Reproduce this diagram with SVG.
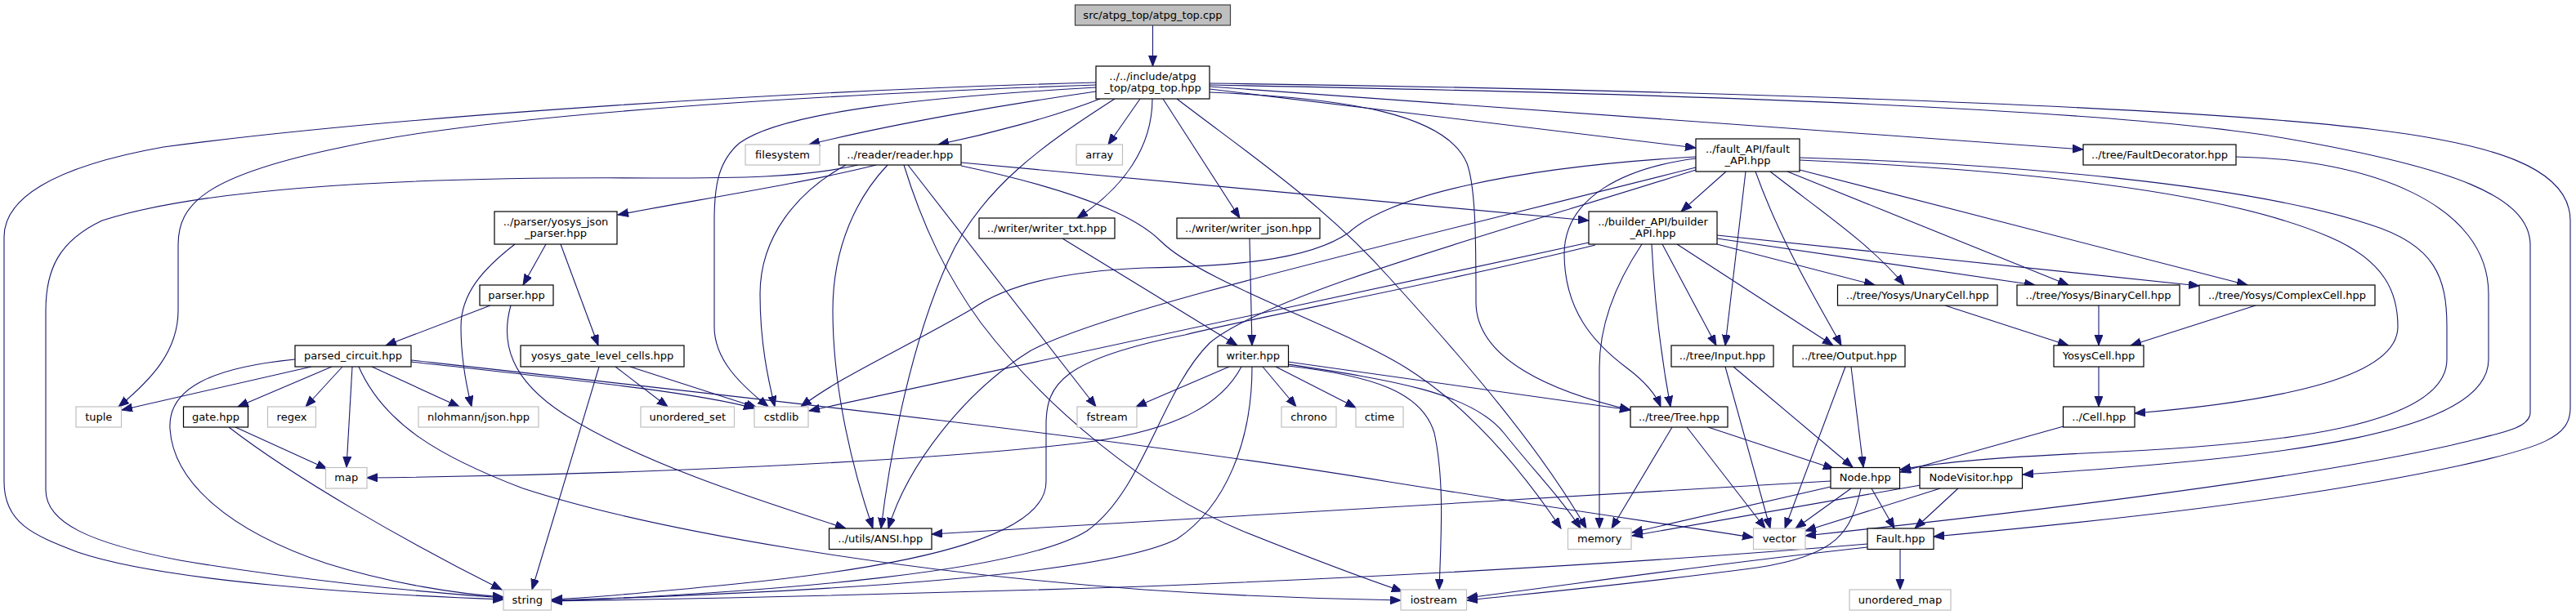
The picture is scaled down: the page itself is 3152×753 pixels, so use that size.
<svg xmlns="http://www.w3.org/2000/svg" width="3152" height="753" viewBox="0 0 3152 753">
<defs>
<style>
.node rect{fill:#ffffff;stroke:#000000;stroke-width:1.2}
.ext rect{stroke:#bfbfbf}
.root rect{fill:#bfbfbf;stroke:#404040}
.node text{font-family:"DejaVu Sans","Liberation Sans",sans-serif;font-size:13px;text-anchor:middle;fill:#000000}
.edges path{fill:none;stroke:#191970;stroke-width:1.1;marker-end:url(#ah)}
</style>
<marker id="ah" markerUnits="userSpaceOnUse" markerWidth="14" markerHeight="11" refX="13" refY="5" orient="auto">
<path d="M0,0 L13,5 L0,10 z" fill="#191970" stroke="#191970" stroke-width="1"/>
</marker>
</defs>
<rect x="0" y="0" width="3152" height="753" fill="#ffffff"/>
<g id="edges" class="edges">
<path d="M1410.5,31 L1410.5,81"/>
<path d="M1341,112 C1230,128 1090,152 990,177"/>
<path d="M1346,121 C1290,143 1210,164 1148,177"/>
<path d="M1395,121 L1356,177"/>
<path d="M1410,121 C1410,180 1375,230 1318,267"/>
<path d="M1423,121 L1517,267"/>
<path d="M1480,109 L2075,181"/>
<path d="M1480,106 L2549,183"/>
<path d="M1480,104 C1800,110 2550,125 2800,170 C3000,205 3096,240 3096,300 L3096,505 C3096,525 3060,530 3000,545 C2800,590 2450,630 2209,656"/>
<path d="M1480,102 C1800,106 2600,122 2900,158 C3050,176 3145,205 3145,270 L3145,500 C3145,535 3110,548 3010,570 C2800,615 2550,640 2366,657"/>
<path d="M1341,101 C1000,110 500,140 200,180 C60,205 5,245 5,290 L5,590 C5,640 40,655 95,676 C200,712 450,728 616,734"/>
<path d="M1341,104 C1000,116 600,140 420,180 C250,215 218,250 218,300 L218,380 C218,430 185,465 145,498"/>
<path d="M1341,107 C1150,118 960,135 905,175 C878,198 874,230 874,270 L874,400 C874,440 905,470 940,498"/>
<path d="M1364,121 C1280,175 1200,230 1160,320 C1115,420 1090,550 1078,647"/>
<path d="M1440,121 C1530,190 1620,250 1700,340 C1800,450 1885,550 1941,647"/>
<path d="M1480,113 C1650,120 1770,140 1795,200 C1806,230 1806,300 1806,370 C1806,440 1900,480 1995,502"/>
<path d="M1072,202 C980,225 850,245 756,263"/>
<path d="M1176,199 L1944,270"/>
<path d="M1050,202 C980,218 900,218 800,218 C500,216 250,230 125,270 C72,295 56,330 56,380 L56,600 C56,640 110,665 220,686 C350,708 500,724 616,732"/>
<path d="M1035,202 C975,235 930,290 930,360 C930,420 940,465 948,498"/>
<path d="M1086,202 C1050,240 1019,300 1019,380 C1019,480 1045,580 1068,647"/>
<path d="M1106,202 C1130,280 1160,340 1200,395 C1280,500 1400,600 1520,650 C1600,682 1660,705 1716,724"/>
<path d="M1111,202 L1341,498"/>
<path d="M1176,203 C1280,225 1380,255 1420,295 C1470,345 1640,400 1720,450 C1800,500 1865,580 1910,647"/>
<path d="M668,299 L640,349"/>
<path d="M686,299 L732,423"/>
<path d="M630,299 C590,330 564,360 564,400 C564,440 570,470 577,498"/>
<path d="M600,374 L472,423"/>
<path d="M625,374 C612,420 625,465 690,507 C780,565 920,610 1035,647"/>
<path d="M361,440 C260,450 205,475 208,525 C212,590 280,650 400,690 C480,715 560,727 616,731"/>
<path d="M381,449 L149,502"/>
<path d="M406,449 L291,498"/>
<path d="M419,449 L374,498"/>
<path d="M431,449 L424,572"/>
<path d="M439,449 C470,520 540,560 640,598 C800,650 1100,700 1400,722 C1550,732 1650,734 1714,735"/>
<path d="M455,449 L562,498"/>
<path d="M503,443 C700,465 850,480 923,500"/>
<path d="M503,441 C900,485 1400,540 1700,590 C1900,622 2050,643 2145,658"/>
<path d="M288,523 L400,574"/>
<path d="M280,523 C360,585 500,665 614,722"/>
<path d="M733,449 L651,722"/>
<path d="M753,449 L817,498"/>
<path d="M771,449 L926,499"/>
<path d="M1300,292 L1514,423"/>
<path d="M1529,292 L1532,423"/>
<path d="M1504,449 L1390,498"/>
<path d="M1519,449 C1495,495 1440,525 1340,540 C1150,565 750,582 449,585"/>
<path d="M1532,449 C1532,540 1500,620 1440,660 C1350,705 1000,725 675,735"/>
<path d="M1545,449 L1586,498"/>
<path d="M1561,449 L1659,499"/>
<path d="M1576,443 L1995,502"/>
<path d="M1576,446 C1700,465 1800,480 1840,530 C1880,580 1910,610 1934,647"/>
<path d="M1576,448 C1680,460 1740,480 1755,530 C1768,590 1763,660 1761,722"/>
<path d="M1944,297 L990,503"/>
<path d="M1952,300 C1750,350 1550,385 1450,410 C1300,440 1280,470 1280,520 L1280,590 C1280,650 1150,690 900,715 C800,725 720,732 675,734"/>
<path d="M2009,299 C1975,350 1957,400 1957,450 L1957,647"/>
<path d="M2021,299 C2025,380 2035,450 2044,498"/>
<path d="M2034,299 L2100,423"/>
<path d="M2052,299 L2243,423"/>
<path d="M2101,299 L2294,349"/>
<path d="M2101,292 L2490,349"/>
<path d="M2101,288 L2691,350"/>
<path d="M2112,210 L2057,259"/>
<path d="M2136,210 L2111,423"/>
<path d="M2148,210 C2180,300 2230,380 2253,423"/>
<path d="M2166,210 C2230,260 2290,300 2330,349"/>
<path d="M2187,210 L2531,349"/>
<path d="M2202,208 L2750,349"/>
<path d="M2202,196 C2400,205 2700,225 2850,290 C2920,320 2934,360 2934,400 C2934,460 2800,490 2612,506"/>
<path d="M2202,193 C2450,200 2750,225 2900,275 C2980,300 2994,340 2994,400 L2994,440 C2994,520 2800,545 2550,555 C2450,560 2380,565 2325,575"/>
<path d="M2075,192 C1850,205 1700,240 1650,285 C1600,320 1500,326 1400,328 C1300,332 1230,350 1190,378 C1100,430 1030,460 980,498"/>
<path d="M2075,194 C1990,205 1915,240 1914,310 C1914,380 1950,420 1990,450 C2010,465 2025,480 2032,498"/>
<path d="M2075,205 C1700,300 1350,380 1260,430 C1180,480 1110,570 1087,647"/>
<path d="M2075,208 C1850,280 1550,360 1480,420 C1420,480 1400,600 1330,650 C1250,700 950,725 675,736"/>
<path d="M2380,374 L2531,423"/>
<path d="M2568,374 L2568,423"/>
<path d="M2760,374 L2607,423"/>
<path d="M2568,449 L2568,498"/>
<path d="M2525,522 L2325,578"/>
<path d="M2736,192 C2900,195 3045,250 3045,360 L3045,440 C3045,530 2800,560 2475,581"/>
<path d="M2111,449 L2166,647"/>
<path d="M2121,449 L2267,572"/>
<path d="M2258,449 L2184,647"/>
<path d="M2265,449 L2280,572"/>
<path d="M2046,523 L1972,647"/>
<path d="M2064,523 L2160,647"/>
<path d="M2090,523 L2244,574"/>
<path d="M2265,598 L2197,647"/>
<path d="M2290,598 L2318,647"/>
<path d="M2240,596 L1997,652"/>
<path d="M2240,589 L1140,654"/>
<path d="M2277,598 C2265,650 2250,680 2150,695 C2000,715 1880,726 1795,735"/>
<path d="M2350,594 L1997,656"/>
<path d="M2374,598 L2209,650"/>
<path d="M2396,598 L2343,647"/>
<path d="M2325,672 L2325,722"/>
<path d="M2285,666 C2000,690 1700,706 1400,718 C1100,728 850,733 675,736"/>
<path d="M2285,670 C2100,690 1950,712 1795,732"/>
</g>
<g id="n_cpp" class="node root"><rect x="1315.5" y="6" width="190" height="25"/><text x="1410.5" y="22.5">src/atpg_top/atpg_top.cpp</text></g>
<g id="n_atpg_top_hpp" class="node"><rect x="1341" y="81" width="139" height="40"/><text x="1410.5" y="98">../../include/atpg</text><text x="1410.5" y="112">_top/atpg_top.hpp</text></g>
<g id="n_filesystem" class="node ext"><rect x="912" y="177" width="91" height="25"/><text x="957.5" y="193.5">filesystem</text></g>
<g id="n_reader" class="node"><rect x="1026.5" y="177" width="149.5" height="25"/><text x="1101.25" y="193.5">../reader/reader.hpp</text></g>
<g id="n_array" class="node ext"><rect x="1317" y="177" width="56.5" height="25"/><text x="1345.25" y="193.5">array</text></g>
<g id="n_fault_api" class="node"><rect x="2075" y="170" width="127" height="40"/><text x="2138.5" y="187">../fault_API/fault</text><text x="2138.5" y="201">_API.hpp</text></g>
<g id="n_faultdecorator" class="node"><rect x="2549" y="177" width="187" height="25"/><text x="2642.5" y="193.5">../tree/FaultDecorator.hpp</text></g>
<g id="n_yosys_json_parser" class="node"><rect x="605" y="259" width="150" height="40"/><text x="680" y="276">../parser/yosys_json</text><text x="680" y="290">_parser.hpp</text></g>
<g id="n_writer_txt" class="node"><rect x="1198" y="267" width="166" height="25"/><text x="1281" y="283.5">../writer/writer_txt.hpp</text></g>
<g id="n_writer_json" class="node"><rect x="1440" y="267" width="175" height="25"/><text x="1527.5" y="283.5">../writer/writer_json.hpp</text></g>
<g id="n_builder_api" class="node"><rect x="1944" y="259" width="157" height="40"/><text x="2022.5" y="276">../builder_API/builder</text><text x="2022.5" y="290">_API.hpp</text></g>
<g id="n_parser" class="node"><rect x="587" y="349" width="90" height="25"/><text x="632" y="365.5">parser.hpp</text></g>
<g id="n_unarycell" class="node"><rect x="2248.5" y="349" width="195.5" height="25"/><text x="2346.25" y="365.5">../tree/Yosys/UnaryCell.hpp</text></g>
<g id="n_binarycell" class="node"><rect x="2468" y="349" width="199" height="25"/><text x="2567.5" y="365.5">../tree/Yosys/BinaryCell.hpp</text></g>
<g id="n_complexcell" class="node"><rect x="2691" y="349" width="215" height="25"/><text x="2798.5" y="365.5">../tree/Yosys/ComplexCell.hpp</text></g>
<g id="n_parsed_circuit" class="node"><rect x="361" y="423" width="142" height="26"/><text x="432" y="440">parsed_circuit.hpp</text></g>
<g id="n_yosys_gate_level_cells" class="node"><rect x="637" y="423" width="200" height="26"/><text x="737" y="440">yosys_gate_level_cells.hpp</text></g>
<g id="n_writer" class="node"><rect x="1490" y="423" width="86.5" height="26"/><text x="1533.25" y="440">writer.hpp</text></g>
<g id="n_input" class="node"><rect x="2045" y="423" width="125" height="26"/><text x="2107.5" y="440">../tree/Input.hpp</text></g>
<g id="n_output" class="node"><rect x="2194" y="423" width="137" height="26"/><text x="2262.5" y="440">../tree/Output.hpp</text></g>
<g id="n_yosyscell" class="node"><rect x="2513" y="423" width="110" height="26"/><text x="2568" y="440">YosysCell.hpp</text></g>
<g id="n_tuple" class="node ext"><rect x="93" y="498" width="55.5" height="25"/><text x="120.75" y="514.5">tuple</text></g>
<g id="n_gate" class="node"><rect x="224.5" y="498" width="79" height="25"/><text x="264" y="514.5">gate.hpp</text></g>
<g id="n_regex" class="node ext"><rect x="327.5" y="498" width="59" height="25"/><text x="357" y="514.5">regex</text></g>
<g id="n_nlohmann" class="node ext"><rect x="512" y="498" width="147" height="25"/><text x="585.5" y="514.5">nlohmann/json.hpp</text></g>
<g id="n_unordered_set" class="node ext"><rect x="784" y="498" width="114.5" height="25"/><text x="841.25" y="514.5">unordered_set</text></g>
<g id="n_cstdlib" class="node ext"><rect x="923" y="498" width="66" height="25"/><text x="956" y="514.5">cstdlib</text></g>
<g id="n_fstream" class="node ext"><rect x="1318" y="498" width="73" height="25"/><text x="1354.5" y="514.5">fstream</text></g>
<g id="n_chrono" class="node ext"><rect x="1568" y="498" width="67" height="25"/><text x="1601.5" y="514.5">chrono</text></g>
<g id="n_ctime" class="node ext"><rect x="1659" y="498" width="58" height="25"/><text x="1688" y="514.5">ctime</text></g>
<g id="n_tree" class="node"><rect x="1995" y="498" width="119" height="25"/><text x="2054.5" y="514.5">../tree/Tree.hpp</text></g>
<g id="n_cell" class="node"><rect x="2524.5" y="498" width="87.5" height="25"/><text x="2568.25" y="514.5">../Cell.hpp</text></g>
<g id="n_map" class="node ext"><rect x="398.5" y="572.5" width="50.5" height="25.5"/><text x="423.75" y="589">map</text></g>
<g id="n_node" class="node"><rect x="2240" y="572.5" width="84.5" height="25.5"/><text x="2282.25" y="589">Node.hpp</text></g>
<g id="n_nodevisitor" class="node"><rect x="2349" y="572.5" width="125.5" height="25.5"/><text x="2411.75" y="589">NodeVisitor.hpp</text></g>
<g id="n_ansi" class="node"><rect x="1014.5" y="647" width="125.5" height="25.5"/><text x="1077.25" y="663.5">../utils/ANSI.hpp</text></g>
<g id="n_memory" class="node ext"><rect x="1918.5" y="647" width="77.5" height="25.5"/><text x="1957.25" y="663.5">memory</text></g>
<g id="n_vector" class="node ext"><rect x="2145.5" y="647" width="63.5" height="25.5"/><text x="2177.25" y="663.5">vector</text></g>
<g id="n_fault" class="node"><rect x="2285" y="647" width="81" height="25.5"/><text x="2325.5" y="663.5">Fault.hpp</text></g>
<g id="n_string" class="node ext"><rect x="616" y="722" width="58.5" height="25"/><text x="645.25" y="738.5">string</text></g>
<g id="n_iostream" class="node ext"><rect x="1714" y="722" width="80.5" height="25"/><text x="1754.25" y="738.5">iostream</text></g>
<g id="n_unordered_map" class="node ext"><rect x="2263" y="722" width="124" height="25"/><text x="2325" y="738.5">unordered_map</text></g>
</svg>
